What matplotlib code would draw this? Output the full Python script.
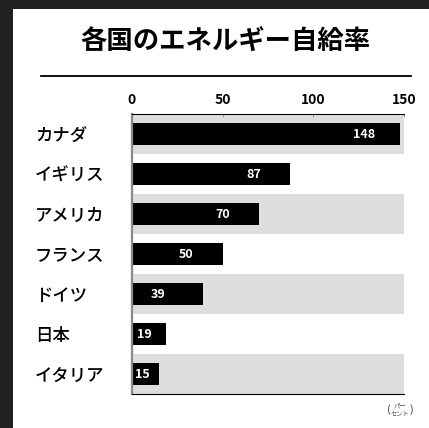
import matplotlib
matplotlib.use("Agg")
import matplotlib.pyplot as plt
from matplotlib.patches import Rectangle
from matplotlib.lines import Line2D

plt.rcParams['font.family'] = ['Noto Sans CJK JP', 'DejaVu Sans']

title = "各国のエネルギー自給率"
countries = ["カナダ", "イギリス", "アメリカ", "フランス", "ドイツ", "日本", "イタリア"]
values = [148, 87, 70, 50, 39, 19, 15]
ticks = [0, 50, 100, 150]
unit = "パー\nセント"

W, H = 429, 428
fig = plt.figure(figsize=(W / 100, H / 100), dpi=100)
fig.patch.set_facecolor("#222222")
fig.patches.append(Rectangle((13 / W, 0), 1 - 13 / W, 1 - 9 / H, transform=fig.transFigure,
                             facecolor="white", edgecolor="none", zorder=-5))

ax = fig.add_axes([132 / W, 1 - 394 / H, 272 / W, 280 / H])
ax.set_zorder(2)
ax.set_facecolor("none")
n = len(countries)
ax.set_xlim(0, 150)
ax.set_ylim(n - 0.5, -0.5)

for i in range(n):
    if i % 2 == 0:
        ax.axhspan(i - 0.5, i + 0.5, xmin=0, xmax=1, facecolor="#dcdddc", edgecolor="none", zorder=0)

ax.barh(range(n), values, height=0.54, color="black", zorder=2)
for i, v in enumerate(values):
    xc = v - 20 if v >= 50 else v * 0.37
    ax.text(xc, i, str(v), color="white", fontsize=9, fontweight="bold",
            ha="center", va="center", zorder=3)

ax.set_yticks(range(n))
ax.set_yticklabels(countries, fontsize=12.5, ha="left", fontweight="medium")
ax.tick_params(axis="y", length=0, pad=(132 - 35) * 0.72)
ax.xaxis.tick_top()
ax.set_xticks(ticks)
ax.set_xticklabels([str(t) for t in ticks], fontsize=10, fontweight="bold")
ax.tick_params(axis="x", length=2, width=0.6, color="#888888", direction="in", pad=5)

ax.spines["right"].set_visible(False)
ax.spines["left"].set_color("#888888")
ax.spines["left"].set_linewidth(1.6)
ax.spines["top"].set_linewidth(0.8)
ax.spines["bottom"].set_linewidth(0.8)

fig.text(225 / W, 1 - 42 / H, title, fontsize=19, fontweight="bold", ha="center", va="center")
fig.lines.append(Line2D([41 / W, 411 / W], [1 - 76 / H, 1 - 76 / H], transform=fig.transFigure,
                        color="black", linewidth=1.3))

fig.text(389 / W, 1 - 410 / H, "(", fontsize=8, ha="center", va="center", color="#444444")
fig.text(400 / W, 1 - 410 / H, unit, fontsize=4.5, ha="center", va="center", color="#444444",
         linespacing=1.0)
fig.text(411 / W, 1 - 410 / H, ")", fontsize=8, ha="center", va="center", color="#444444")

fig.savefig("out.png", dpi=100, facecolor=fig.get_facecolor())
